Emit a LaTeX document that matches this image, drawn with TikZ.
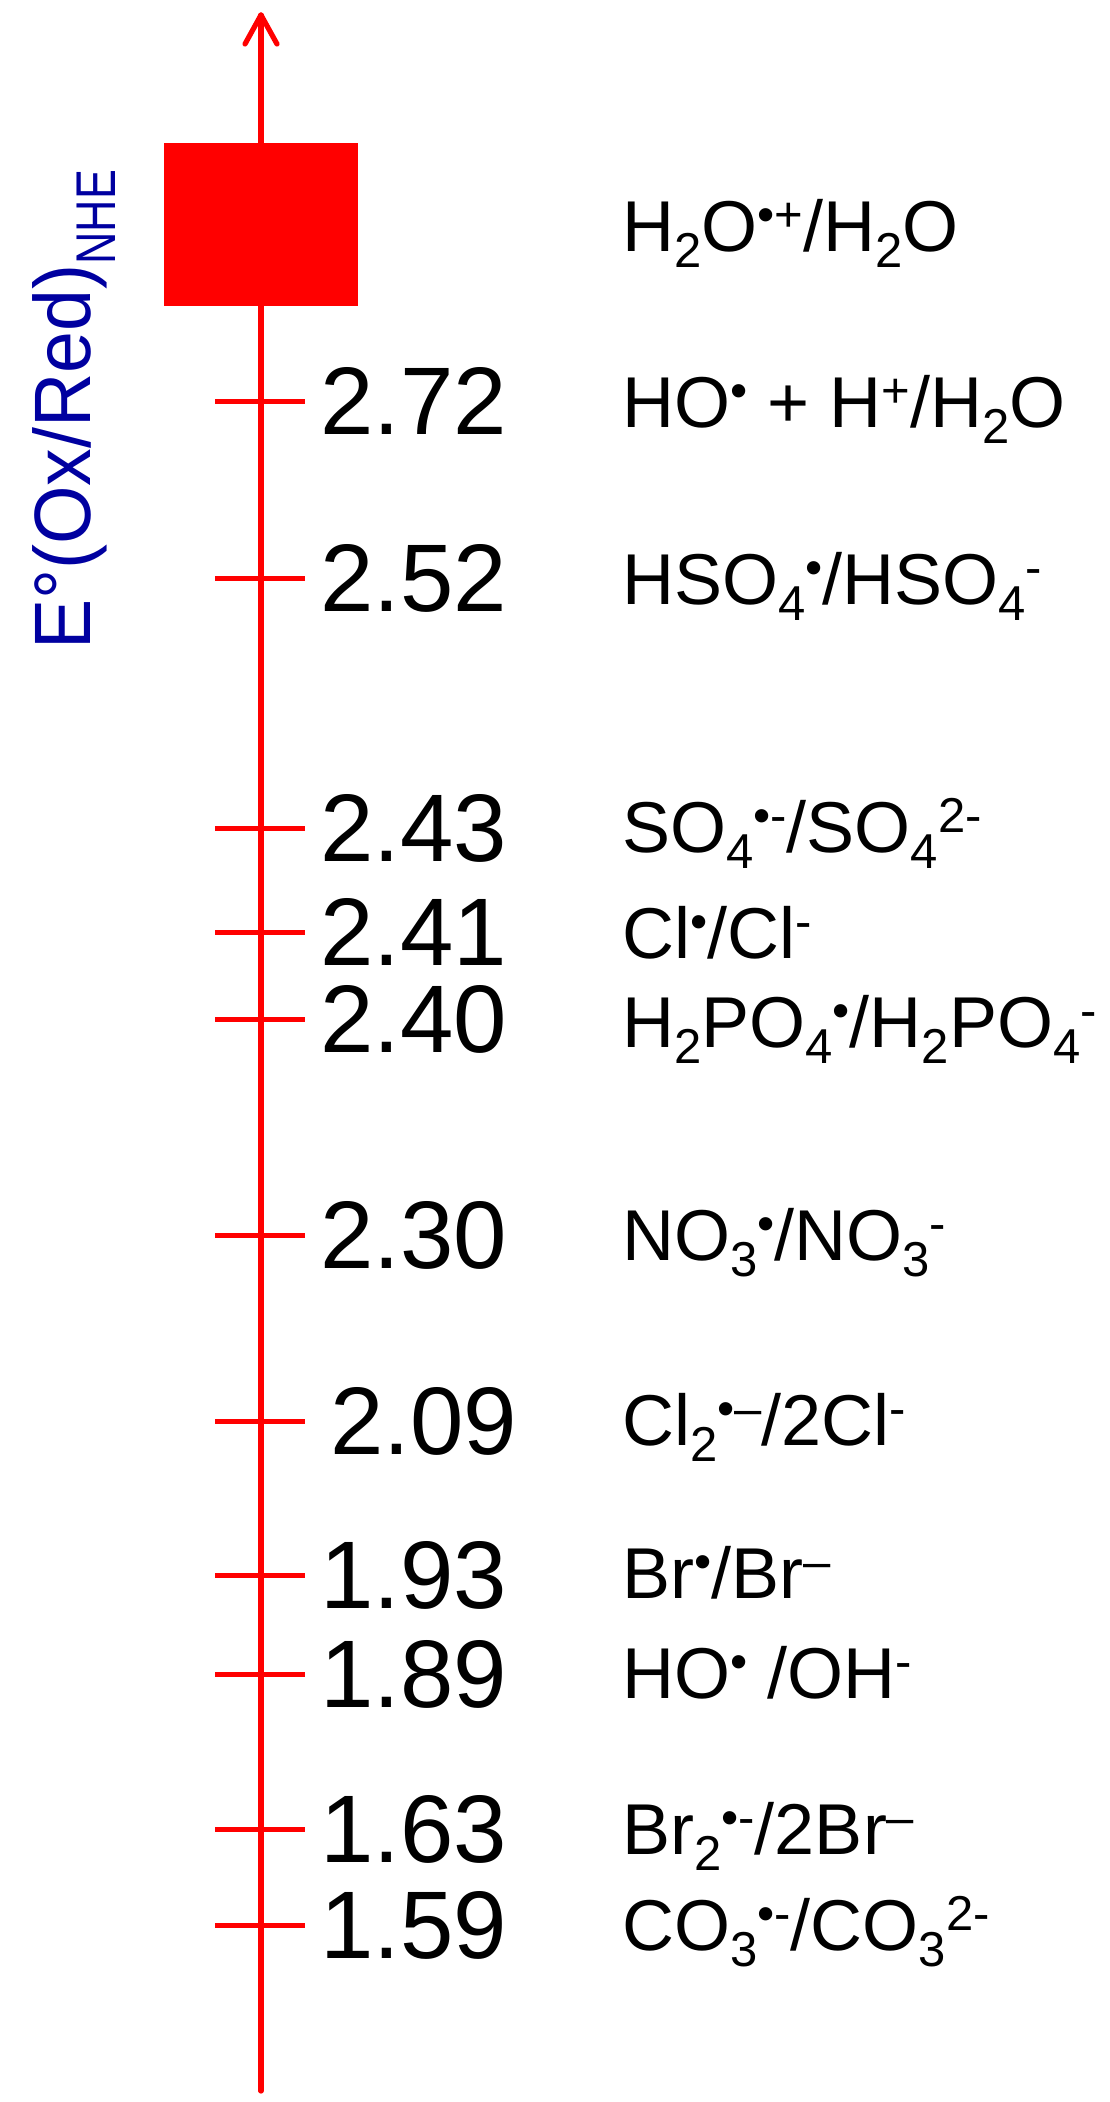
\documentclass[tikz,border=0pt]{standalone}
\usepackage{fontspec}
\setmainfont{Liberation Sans}
\definecolor{axisblue}{RGB}{0,0,160}
\newcommand\chemsub[1]{\raisebox{-16pt}{\fontsize{49}{49}\selectfont #1}}
\newcommand\chemsup[1]{\raisebox{20pt}{\fontsize{49}{49}\selectfont #1}}
\begin{document}
\begin{tikzpicture}[x=1pt,y=-1pt,
  axisline/.style={draw=red,line width=5.2pt,line cap=round,line join=round},
  tickline/.style={draw=red,line width=5pt},
  numlab/.style={anchor=west,inner sep=0pt,font=\fontsize{96}{96}\selectfont},
  redox/.style={anchor=base west,inner sep=0pt,font=\fontsize{72}{72}\selectfont}]
\useasboundingbox (0,0) rectangle (1109,2102);
% axis
\coordinate (axbot) at (261,2091);
\coordinate (axtop) at (261,15);
\coordinate (wl) at (245,44);
\coordinate (wr) at (277,44);
\draw[axisline] (axbot) -- (axtop);
\draw[axisline] (wl) -- (axtop) -- (wr);
% red box
\node[fill=red,minimum width=194pt,minimum height=163pt,inner sep=0pt] (box) at (261,224.5) {};
% axis label
\node[rotate=90,anchor=base west,inner sep=0pt,text=axisblue] (ylab) at (90,650)
  {\fontsize{80}{80}\selectfont\scalebox{0.94}[1]{E°(Ox/Red)}\raisebox{-25pt}{\fontsize{56}{56}\selectfont\scalebox{0.8}[1]{NHE}}};
% ticks and numbers
\foreach \yy/\vv/\xx/\nm in {401/2.72/320/a,578/2.52/320/b,828/2.43/320/c,932/2.41/320/d,1019/2.40/320/e,1235/2.30/320/f,1421/2.09/330/g,1575/1.93/320/h,1674/1.89/320/i,1829/1.63/320/j,1925/1.59/320/k}{
  \draw[tickline] (215,\yy) -- (305,\yy);
  \node[numlab] (num\nm) at (\xx,\yy) {\vv};
}
% redox couples
\node[redox] (ra) at (622,251) {H\chemsub{2}O\chemsup{•+}/H\chemsub{2}O};
\node[redox] (rb) at (622,427) {HO\chemsup{•} + H\chemsup{+}/H\chemsub{2}O};
\node[redox] (rc) at (622,604) {HSO\chemsub{4}\chemsup{•}/HSO\chemsub{4}\chemsup{-}};
\node[redox] (rd) at (622,852) {SO\chemsub{4}\chemsup{•-}/SO\chemsub{4}\chemsup{2-}};
\node[redox] (re) at (622,958) {Cl\chemsup{•}/Cl\chemsup{-}};
\node[redox] (rf) at (622,1047) {H\chemsub{2}PO\chemsub{4}\chemsup{•}/H\chemsub{2}PO\chemsub{4}\chemsup{-}};
\node[redox] (rg) at (622,1260) {NO\chemsub{3}\chemsup{•}/NO\chemsub{3}\chemsup{-}};
\node[redox] (rh) at (622,1445) {Cl\chemsub{2}\chemsup{•–}/2Cl\chemsup{-}};
\node[redox] (ri) at (622,1598) {Br\chemsup{•}/Br\chemsup{–}};
\node[redox] (rj) at (622,1698) {HO\chemsup{•} /OH\chemsup{-}};
\node[redox] (rk) at (622,1854) {Br\chemsub{2}\chemsup{•-}/2Br\chemsup{–}};
\node[redox] (rl) at (622,1950) {CO\chemsub{3}\chemsup{•-}/CO\chemsub{3}\chemsup{2-}};
\end{tikzpicture}
\end{document}
